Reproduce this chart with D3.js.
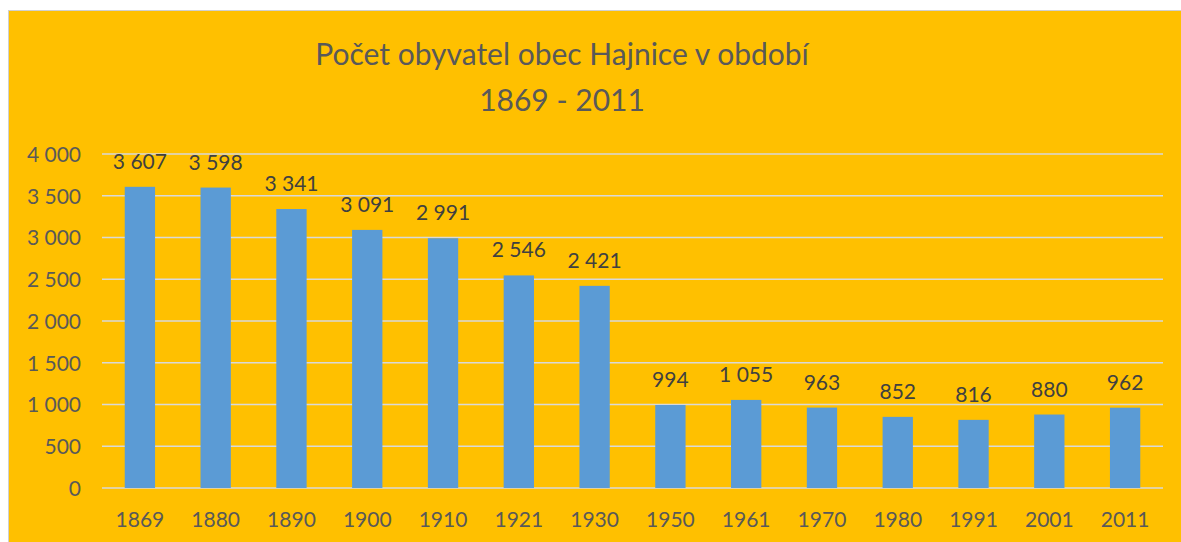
<!DOCTYPE html>
<html>
<head>
<meta charset="utf-8">
<script src="https://cdn.jsdelivr.net/npm/d3@7"></script>
<style>
  html, body { margin: 0; padding: 0; background: #fff; }
  svg { display: block; font-family: Lato, "Open Sans", sans-serif; }
</style>
</head>
<body>
<div id="chart"></div>
<script>
// Data
const years = ["1869", "1880", "1890", "1900", "1910", "1921", "1930", "1950", "1961", "1970", "1980", "1991", "2001", "2011"];
const population = [3607, 3598, 3341, 3091, 2991, 2546, 2421, 994, 1055, 963, 852, 816, 880, 962];
const yTicks = [0, 500, 1000, 1500, 2000, 2500, 3000, 3500, 4000];
const titleLines = ["Počet obyvatel obec Hajnice v období", "1869 - 2011"];

const width = 1181;
const height = 542;

// czech style number format: "3 607"
const fmt = d3.formatLocale({ decimal: ",", thousands: " ", grouping: [3], currency: ["", ""] }).format(",d");

const svg = d3.select("#chart").append("svg")
    .attr("width", width)
    .attr("height", height);

// Chart frame (white margin top/left, orange area)
svg.append("rect")
    .attr("x", 8.5).attr("y", 10.5)
    .attr("width", width).attr("height", height)
    .attr("fill", "#FFC000")
    .attr("stroke", "#d0d0d0")
    .attr("stroke-width", 1);

// Title
svg.append("g").selectAll("text")
    .data(titleLines)
    .join("text")
    .attr("x", 562)
    .attr("y", (d, i) => 65 + i * 46)
    .attr("text-anchor", "middle")
    .attr("fill", "#595959")
    .style("font-size", "30px")
    .text(d => d);

// Scales
const x = d3.scaleBand()
    .domain(years)
    .range([102, 1163])
    .paddingInner(0.6)
    .paddingOuter(0.3);

const y = d3.scaleLinear()
    .domain([0, 4000])
    .range([488, 154]);

// Gridlines
svg.append("g").selectAll("line")
    .data(yTicks)
    .join("line")
    .attr("x1", 102).attr("x2", 1163)
    .attr("y1", d => y(d)).attr("y2", d => y(d))
    .attr("stroke", "#d9d9d9")
    .attr("stroke-width", 1.5);

// Y axis labels
const yAxis = svg.append("g")
    .attr("transform", "translate(81,0)")
    .call(d3.axisLeft(y).tickValues(yTicks).tickFormat(fmt).tickSize(0).tickPadding(0));
yAxis.select(".domain").remove();
yAxis.selectAll("text")
    .attr("fill", "#595959")
    .attr("dy", "0.35em")
    .style("font-size", "21px")
    .style("font-family", "Lato, 'Open Sans', sans-serif");

// X axis labels
const xAxis = svg.append("g")
    .attr("transform", "translate(0,488)")
    .call(d3.axisBottom(x).tickSize(0).tickPadding(24));
xAxis.select(".domain").remove();
xAxis.selectAll("text")
    .attr("fill", "#595959")
    .style("font-size", "21px")
    .style("font-family", "Lato, 'Open Sans', sans-serif");

// Bars
svg.append("g").selectAll("rect")
    .data(population)
    .join("rect")
    .attr("x", (d, i) => x(years[i]))
    .attr("y", d => y(d))
    .attr("width", x.bandwidth())
    .attr("height", d => y(0) - y(d))
    .attr("fill", "#5B9BD5");

// Data labels
svg.append("g").selectAll("text")
    .data(population)
    .join("text")
    .attr("x", (d, i) => x(years[i]) + x.bandwidth() / 2)
    .attr("y", d => y(d) - 18)
    .attr("text-anchor", "middle")
    .attr("fill", "#404040")
    .style("font-size", "21px")
    .text(d => fmt(d));
</script>
</body>
</html>
